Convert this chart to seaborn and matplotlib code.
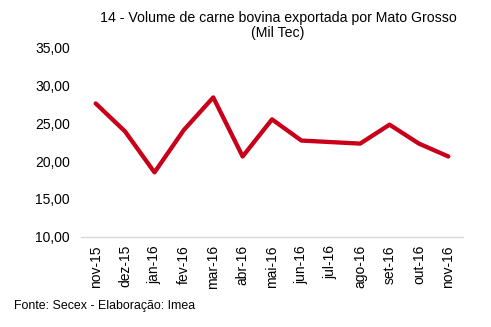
import matplotlib
matplotlib.use("Agg")
import matplotlib.pyplot as plt
import seaborn as sns
import pandas as pd

months = ["nov-15", "dez-15", "jan-16", "fev-16", "mar-16", "abr-16", "mai-16",
          "jun-16", "jul-16", "ago-16", "set-16", "out-16", "nov-16"]
volume = [27.6, 23.9, 18.5, 24.1, 28.4, 20.6, 25.5, 22.7, 22.5, 22.3, 24.8, 22.3, 20.6]
y_ticks = [10, 15, 20, 25, 30, 35]

title = "14 - Volume de carne bovina exportada por Mato Grosso\n(Mil Tec)"
source = "Fonte: Secex - Elaboração: Imea"

sns.set_theme(style="white")
plt.rcParams["font.family"] = ["Liberation Sans", "DejaVu Sans"]

df = pd.DataFrame({"mes": months, "volume": volume})

fig = plt.figure(figsize=(4.91, 3.27), dpi=100)
ax = fig.add_axes([0.165, 0.276, 0.778, 0.579])

sns.lineplot(data=df, x="mes", y="volume", sort=False, ax=ax,
             color="#C8001A", linewidth=3.1)

ax.set_xlim(-0.5, len(months) - 0.5)
ax.set_ylim(10, 35)
ax.set_yticks(y_ticks)
ax.set_yticklabels([f"{v:.2f}".replace(".", ",") for v in y_ticks], fontsize=10)
ax.set_xticks(range(len(months)))
ax.set_xticklabels(months, rotation=90, fontsize=10)
ax.tick_params(axis="both", length=0, pad=8, colors="black")
ax.tick_params(axis="x", pad=6)
ax.set_xlabel("")
ax.set_ylabel("")

for side in ["top", "right", "left"]:
    ax.spines[side].set_visible(False)
ax.spines["bottom"].set_color("#d9d9d9")
ax.spines["bottom"].set_linewidth(1.0)

fig.text(0.566, 0.967, title, ha="center", va="top", fontsize=10.2,
         linespacing=1.1, color="black")
fig.text(0.028, 0.047, source, ha="left", va="bottom", fontsize=8.9,
         color="black")

fig.savefig("out.png", dpi=100)
